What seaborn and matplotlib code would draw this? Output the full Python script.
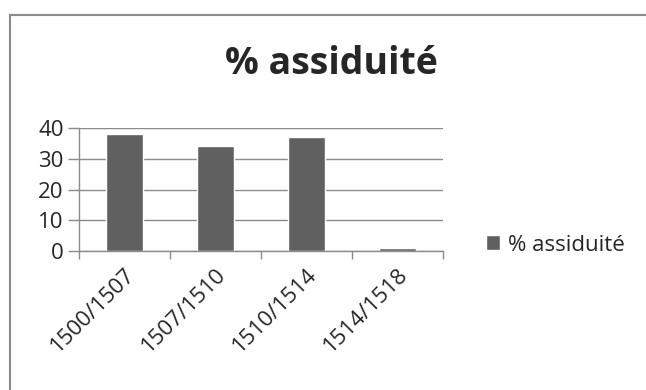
import matplotlib
matplotlib.use("Agg")
import matplotlib.pyplot as plt
import seaborn as sns
import pandas as pd
from matplotlib.patches import Rectangle

categories = ["1500/1507", "1507/1510", "1510/1514", "1514/1518"]
values = [38, 34, 37, 1]
series_name = "% assiduité"
yticks = [0, 10, 20, 30, 40]

sns.set_theme(style="white")
plt.rcParams['font.family'] = ['Open Sans', 'DejaVu Sans']

df = pd.DataFrame({"periode": categories, "val": values, "serie": series_name})

fig = plt.figure(figsize=(6.46, 3.90), dpi=100)
ax = fig.add_axes([79/646, 1-251/390, (443-79)/646, (251-128)/390])

sns.barplot(data=df, x="periode", y="val", hue="serie",
            palette=["#606060"], width=0.4, ax=ax, saturation=1, legend=True)

grid_c = "#8a8a8a"
fs = 16
ax.set_ylim(0, 40)
ax.set_xlim(-0.5, 3.5)
ax.set_yticks(yticks)
ax.set_yticklabels([str(t) for t in yticks], fontsize=fs)
ax.yaxis.grid(True, color=grid_c, linewidth=1)
ax.set_axisbelow(True)
ax.set_xlabel("")
ax.set_ylabel("")
for s in ["top", "right"]:
    ax.spines[s].set_visible(False)
for s in ["left", "bottom"]:
    ax.spines[s].set_color(grid_c)
    ax.spines[s].set_linewidth(1)

# x ticks at category boundaries
ax.set_xticks([-0.5, 0.5, 1.5, 2.5, 3.5], minor=False)
ax.set_xticklabels([])
ax.tick_params(axis="x", which="major", direction="out", length=6, color=grid_c, width=1, bottom=True)
ax.set_xticks(range(len(categories)), minor=True)
ax.set_xticklabels(categories, minor=True, rotation=45, ha="right",
                   rotation_mode="anchor", fontsize=fs)
ax.tick_params(axis="x", which="minor", length=0, pad=9)
ax.tick_params(axis="y", direction="out", length=8, color=grid_c, width=1, left=True, pad=3)

fig.text(331/646, 1-64/390, series_name, fontsize=27, fontweight="bold",
         ha="center", va="center")

leg = ax.legend(loc="center left", bbox_to_anchor=((486-79)/364, (251-245)/123),
                frameon=False, fontsize=fs, handlelength=0.65, handleheight=0.65,
                handletextpad=0.35, borderpad=0, borderaxespad=0)

fig.add_artist(Rectangle((9.5/646, -0.1), 1.0, 1 - 15/390 + 0.1, transform=fig.transFigure,
                         fill=False, edgecolor="#8a8a8a", linewidth=1.5))

fig.savefig("out.png", dpi=100)
